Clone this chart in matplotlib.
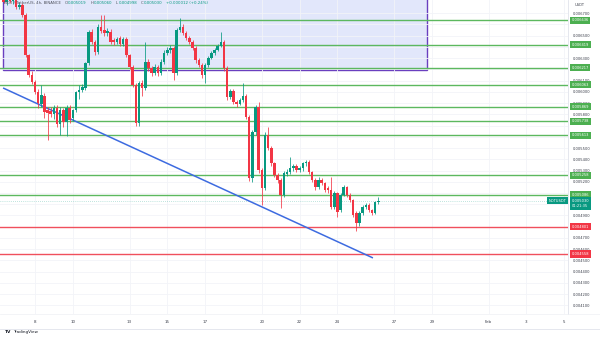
import matplotlib
matplotlib.use("Agg")
import matplotlib.pyplot as plt
from matplotlib.patches import Rectangle
from matplotlib.lines import Line2D
from matplotlib.offsetbox import TextArea, HPacker, AnchoredOffsetbox
import numpy as np

# ---------------- data (NOT/USDT 4h, prices in 1e-6 USDT) ----------------
first_candle_day = 8 - 10 / 6          # Jan 6, 08:00 (day-of-January units)
opens = [6900, 6800, 6830, 6810, 6835, 6756, 6774, 6685, 6328, 6150,
         6088, 5999, 5892, 5964, 5839, 5830, 5800, 5857, 5714, 5839,
         5732, 5857, 5768, 5839, 5999, 6017, 6035, 6257, 6533, 6444,
         6355, 6578, 6551, 6524, 6533, 6462, 6444, 6480, 6426, 6471,
         6328, 6222, 6062, 5723, 6079, 6035, 6266, 6213, 6168, 6222,
         6168, 6266, 6346, 6373, 6391, 6168, 6551, 6578, 6524, 6480,
         6444, 6391, 6284, 6240, 6150, 6240, 6302, 6346, 6373, 6409,
         6444, 6213, 5955, 6008, 5910, 5892, 5928, 5964, 5777, 5234,
         5643, 5866, 5305, 5145, 5616, 5501, 5367, 5260, 5216, 5082,
         5265, 5290, 5323, 5341, 5305, 5323, 5367, 5376, 5287, 5216,
         5154, 5216, 5189, 5145, 5127, 4976, 5100, 4949, 5082, 5154,
         5082, 5038, 4920, 4833, 4922, 4976, 4994, 4949, 4922, 5019]
highs = [6950, 6840, 6860, 6850, 6850, 6800, 6790, 6700, 6340, 6190,
         6110, 6030, 6062, 5990, 5870, 5866, 5880, 5880, 5866, 5860,
         5880, 5880, 5850, 6010, 6062, 6070, 6270, 6550, 6560, 6460,
         6600, 6685, 6685, 6570, 6560, 6480, 6490, 6500, 6490, 6490,
         6340, 6240, 6080, 6100, 6110, 6444, 6290, 6230, 6250, 6240,
         6290, 6370, 6400, 6420, 6410, 6570, 6658, 6600, 6540, 6500,
         6460, 6410, 6300, 6260, 6260, 6320, 6360, 6390, 6430, 6533,
         6460, 6230, 6030, 6030, 5930, 5950, 6079, 5980, 5790, 5660,
         5880, 5910, 5320, 5640, 5688, 5520, 5380, 5280, 5230, 5300,
         5310, 5421, 5360, 5360, 5340, 5380, 5395, 5390, 5300, 5230,
         5240, 5230, 5200, 5160, 5243, 5120, 5110, 5100, 5170, 5165,
         5100, 5050, 4940, 4940, 4990, 5010, 5010, 4960, 5030, 5060]
lows = [6790, 6770, 6790, 6780, 6740, 6740, 6670, 6310, 6130, 6070,
        5985, 5857, 5870, 5768, 5572, 5780, 5760, 5690, 5620, 5688,
        5608, 5720, 5740, 5820, 5940, 6000, 6020, 6240, 6430, 6330,
        6340, 6520, 6500, 6500, 6430, 6420, 6430, 6410, 6410, 6310,
        6200, 6040, 5700, 5700, 5960, 6020, 6190, 6140, 6150, 6140,
        6150, 6250, 6330, 6350, 6110, 6150, 6530, 6510, 6460, 6430,
        6370, 6260, 6220, 6120, 6079, 6220, 6290, 6330, 6360, 6400,
        6190, 5930, 5940, 5890, 5870, 5880, 5910, 5760, 5210, 5200,
        5620, 5280, 4994, 5130, 5480, 5340, 5240, 5190, 4967, 5060,
        5250, 5270, 5300, 5290, 5290, 5300, 5340, 5270, 5200, 5130,
        5140, 5170, 5110, 5100, 4960, 4960, 4887, 4930, 5070, 5060,
        5020, 4890, 4762, 4810, 4900, 4960, 4930, 4900, 4910, 4998]
closes = [6800, 6830, 6810, 6835, 6756, 6774, 6685, 6328, 6150, 6088,
          5999, 5901, 5973, 5821, 5812, 5800, 5857, 5714, 5839, 5732,
          5857, 5750, 5839, 5999, 6017, 6044, 6257, 6533, 6444, 6355,
          6578, 6542, 6524, 6540, 6444, 6444, 6471, 6426, 6471, 6328,
          6222, 6062, 5723, 6079, 6035, 6266, 6213, 6168, 6222, 6168,
          6266, 6346, 6373, 6391, 6168, 6551, 6578, 6524, 6480, 6444,
          6391, 6284, 6240, 6150, 6240, 6302, 6346, 6373, 6409, 6444,
          6213, 5955, 6008, 5910, 5892, 5928, 5964, 5777, 5234, 5643,
          5866, 5305, 5145, 5616, 5501, 5367, 5260, 5216, 5082, 5278,
          5290, 5323, 5341, 5305, 5323, 5367, 5376, 5287, 5216, 5154,
          5216, 5189, 5127, 5127, 4976, 5100, 4931, 5082, 5154, 5082,
          5038, 4904, 4833, 4922, 4976, 4994, 4949, 4922, 5019, 5030]

green_levels = [0.006636, 0.006419, 0.006217, 0.006063, 0.005869,
                0.005738, 0.005613, 0.005258, 0.005086]
red_levels = [0.004801, 0.004558]
last_price = 0.005030
countdown = "01:21:35"
symbol = "NOTUSDT"

# drawings: shaded box (start day, end day, bottom price) and trend line
box_days = (6.31, 28.74)
box_bottom = 0.006195
trend_days = [6.31, 25.88]
trend_prices = [0.006035, 0.004522]

tick_days = [8, 10, 13, 15, 17, 20, 22, 24, 27, 29, 32, 34, 36]
tick_labels = ["8", "10", "13", "15", "17", "20", "22", "24", "27", "29",
               "Feb", "3", "5"]
shown_price_ticks = [0.0067, 0.0065, 0.0063, 0.0061, 0.0060, 0.0059, 0.0058,
                     0.0055, 0.0054, 0.0053, 0.0052, 0.0049, 0.0047, 0.0046,
                     0.0045, 0.0044, 0.0043, 0.0042, 0.0041]

# ---------------- figure ----------------
UP, DOWN = "#089981", "#f23645"
GREEN_LINE, GREEN_BOX = "#5cb85f", "#4caf50"
W, H = 600, 338
fig = plt.figure(figsize=(W / 100, H / 100), dpi=100)
fig.patch.set_facecolor("white")
ax = fig.add_axes([0, (H - 314) / H, 568 / W, 314 / H])

o = np.array(opens) * 1e-6
h = np.array(highs) * 1e-6
l = np.array(lows) * 1e-6
c = np.array(closes) * 1e-6
t = first_candle_day + np.arange(len(o)) / 6.0
cols = np.where(c >= o, UP, DOWN)

ax.set_xlim(6.148, 36.2)
ax.set_ylim(0.004023, 0.006818)

# grid
all_ticks = np.round(np.arange(0.0041, 0.00675, 0.0001), 4)
ax.set_yticks(all_ticks)
ax.set_yticklabels([f"{v:.6f}" if any(abs(v - s) < 1e-9 for s in shown_price_ticks) else ""
                    for v in all_ticks])
ax.set_xticks(tick_days)
ax.set_xticklabels(tick_labels)
ax.grid(True, color="#f2f4f8", lw=0.6, zorder=0)
ax.yaxis.tick_right()
ax.tick_params(axis="y", length=0, pad=3.4, labelsize=2.6, labelcolor="#3a3e4a")
ax.tick_params(axis="x", length=0, pad=4.2, labelsize=2.9, labelcolor="#3a3e4a")
for s in ax.spines.values():
    s.set_visible(False)
ax.spines["right"].set_visible(True)
ax.spines["right"].set_color("#e0e3eb")
ax.spines["right"].set_linewidth(0.6)

# shaded rectangle
ax.add_patch(Rectangle((box_days[0], box_bottom), box_days[1] - box_days[0],
                       0.0080 - box_bottom, facecolor="#e2e7fb",
                       edgecolor="#6a3fbf", lw=1.0, zorder=1))

# horizontal levels
for lv in green_levels:
    ax.axhline(lv, color=GREEN_LINE, lw=1.0, zorder=2)
for lv in red_levels:
    ax.axhline(lv, color="#f0505c", lw=1.0, zorder=2)
ax.axhline(last_price, color=UP, lw=0.5, ls=(0, (1, 2)), zorder=2, alpha=0.5)

# trend line
ax.plot(trend_days, trend_prices, color="#3d6be0", lw=1.1, zorder=2.5,
        solid_capstyle="butt")

# candles
ax.vlines(t, l, h, colors=cols, lw=0.55, zorder=3)
body = np.maximum(np.abs(c - o), 0.000004)
ax.bar(t, body, bottom=np.minimum(o, c), width=0.8 / 6, color=cols,
       edgecolor="none", zorder=3.5)

# price labels on the axis
ytr = ax.get_yaxis_transform()
xl = 571.5 / 568
for lv in green_levels:
    ax.text(xl, lv, f"{lv:.6f}", transform=ytr, ha="left", va="center",
            fontsize=2.6, color="white", clip_on=False, zorder=6,
            bbox=dict(boxstyle="square,pad=0.45", fc=GREEN_BOX, ec="none"))
for lv in red_levels:
    ax.text(xl, lv, f"{lv:.6f}", transform=ytr, ha="left", va="center",
            fontsize=2.6, color="white", clip_on=False, zorder=6,
            bbox=dict(boxstyle="square,pad=0.45", fc=DOWN, ec="none"))
ax.text(xl, last_price + 0.0000165, f"{last_price:.6f}\n{countdown}", transform=ytr,
        ha="left", va="top", fontsize=2.6, color="white", clip_on=False,
        zorder=7, linespacing=1.3,
        bbox=dict(boxstyle="square,pad=0.45", fc=UP, ec="none"))
ax.text(566 / 568, last_price, symbol, transform=ytr, ha="right", va="center",
        fontsize=2.6, color="white", clip_on=False, zorder=7,
        bbox=dict(boxstyle="square,pad=0.45", fc=UP, ec="none"))
fig.text(575 / W, 1 - 5 / H, "USDT", fontsize=2.6, color="#3a3e4a",
         ha="left", va="center")

# legend line (top-left)
gray = dict(fontsize=2.8, color="#50535e")
val = dict(fontsize=2.8, color=UP)
parts = [TextArea("NOT / TetherUS, 4h, BINANCE", textprops=gray)]
for letter, v in [("O", "0.005019"), ("H", "0.005060"), ("L", "0.004998"),
                  ("C", "0.005030")]:
    parts.append(HPacker(children=[TextArea(letter, textprops=gray),
                                   TextArea(v, textprops=val)], sep=0.3, pad=0))
parts.append(TextArea("+0.000012 (+0.24%)", textprops=val))
pack = HPacker(children=parts, sep=2.6, pad=0, align="center")
ab = AnchoredOffsetbox(loc="upper left", child=pack, frameon=False,
                       bbox_to_anchor=(4 / W, 1 - 1.5 / H),
                       bbox_transform=fig.transFigure, borderpad=0, pad=0)
fig.add_artist(ab)

# frame lines and logo
fig.add_artist(Line2D([0, 1], [(H - 329) / H] * 2, color="#e0e3eb", lw=0.6))
fig.add_artist(Line2D([0, 1], [(H - 314) / H] * 2, color="#eef0f4", lw=0.5))
fig.text(5 / W, 1 - 332 / H, "TV", fontsize=3.2, fontweight="bold",
         color="#131722", ha="left", va="center")
fig.text(13 / W, 1 - 332 / H, "TradingView", fontsize=3.0,
         color="#131722", ha="left", va="center")

fig.savefig("out.png", dpi=100, facecolor="white")
